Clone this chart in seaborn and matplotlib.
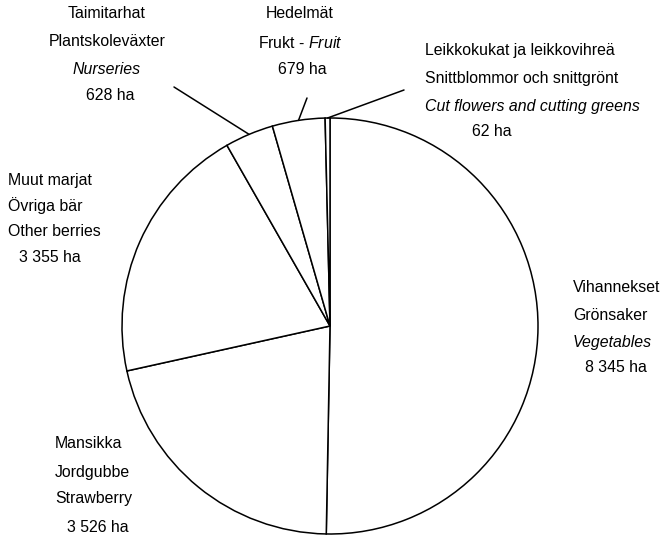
# Puutarhatuotannon pinta-alat - piirakkakaavio
import numpy as np
import matplotlib
matplotlib.use("Agg")
import matplotlib.pyplot as plt
import seaborn as sns

# 1. Data (ha), myötäpäivään ylhäältä alkaen
categories = ["Vihannekset", "Mansikka", "Muut marjat", "Taimitarhat", "Hedelmät", "Leikkokukat"]
areas_ha = [8345, 3526, 3355, 628, 679, 62]
area_labels = ["8 345 ha", "3 526 ha", "3 355 ha", "628 ha", "679 ha", "62 ha"]

# 2. Tyyli
sns.set_theme(style="white")
plt.rcParams["font.family"] = ["Liberation Sans", "DejaVu Sans"]
plt.rcParams["mathtext.fontset"] = "custom"
plt.rcParams["mathtext.it"] = "Liberation Sans:italic"
plt.rcParams["mathtext.rm"] = "Liberation Sans"

W, H = 664, 537
fig = plt.figure(figsize=(W / 100, H / 100), dpi=100)
ax = fig.add_axes([0, 0, 1, 1])

cx, cy, R = 330, H - 326, 208
wedges, _ = ax.pie(areas_ha, startangle=90, counterclock=False,
                   center=(cx, cy), radius=R,
                   colors=["white"] * len(areas_ha),
                   wedgeprops=dict(edgecolor="black", linewidth=1.1))
ax.set_xlim(0, W)
ax.set_ylim(0, H)
ax.set_aspect("equal")
ax.axis("off")

fs = 11.4


def txt(x, y, s, ha="left", style="normal"):
    # y annetaan kuvan pikseleinä ylhäältä
    ax.text(x, H - y, s, ha=ha, va="center", fontsize=fs, style=style, color="black")


def edge_point(w):
    a = np.deg2rad((w.theta1 + w.theta2) / 2)
    return cx + R * np.cos(a), cy + R * np.sin(a)


# 3. Tekstit
# Vihannekset
txt(573, 288, "Vihannekset")
txt(573, 316, "Grönsaker")
txt(573, 343, "Vegetables", style="italic")
txt(585, 368, area_labels[0])

# Mansikka
txt(55, 444, "Mansikka")
txt(55, 472, "Jordgubbe")
txt(55, 499, "Strawberry")
txt(67, 527, area_labels[1])

# Muut marjat
txt(8, 180, "Muut marjat")
txt(8, 206, "Övriga bär")
txt(8, 232, "Other berries")
txt(19, 257, area_labels[2])

# Taimitarhat
txt(107, 14, "Taimitarhat", ha="center")
txt(107, 42, "Plantskoleväxter", ha="center")
txt(107, 70, "Nurseries", ha="center", style="italic")
txt(110, 96, area_labels[3], ha="center")

# Hedelmät
txt(300, 14, "Hedelmät", ha="center")
txt(300, 43, r"Frukt - $\mathit{Fruit}$", ha="center")
txt(302, 69, area_labels[4], ha="center")

# Leikkokukat
txt(425, 51, "Leikkokukat ja leikkovihreä")
txt(425, 79, "Snittblommor och snittgrönt")
txt(425, 106, "Cut flowers and cutting greens", style="italic")
txt(472, 131, area_labels[5])

# 4. Viivat tekstistä piirakkaan
leaders = {3: (174, 87), 4: (307, 98), 5: (404, 90)}
for i, (tx, ty) in leaders.items():
    ax.annotate("", xy=edge_point(wedges[i]), xytext=(tx, H - ty),
                arrowprops=dict(arrowstyle="-", color="black", lw=1.1,
                                shrinkA=0, shrinkB=0))

fig.savefig("out.png", dpi=100)
